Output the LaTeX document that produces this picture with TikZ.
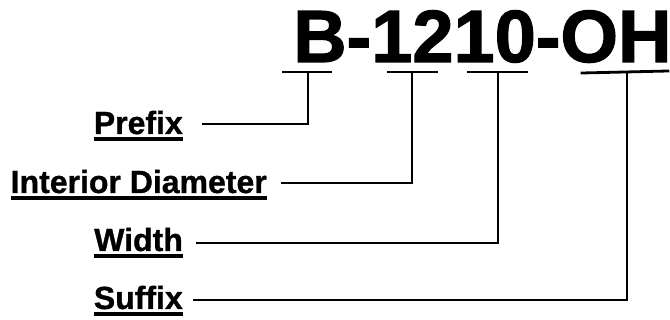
\documentclass[tikz,border=0pt]{standalone}
\usepackage{fontspec}
\setmainfont{Liberation Sans}
\newfontfamily\heavy{Liberation Sans Bold}[FakeBold=1.6]
\newfontfamily\heavylab{Liberation Sans Bold}[FakeBold=1]
\begin{document}
\begin{tikzpicture}[x=1pt,y=-1pt,
  lab/.style={inner sep=0pt, anchor=base east, font=\fontsize{32pt}{32pt}\heavylab},
  conn/.style={line width=2.8pt, line cap=rect},
  ul/.style={line width=3.2pt}]
\useasboundingbox (0,0) rectangle (670,320);
\node[inner sep=0pt, anchor=base west, font=\fontsize{74pt}{74pt}\heavy] (title) at (293,62) {B-1210-OH};
% bars under the code
\coordinate (b1l) at (283,72); \coordinate (b1r) at (331,72); \coordinate (b1) at (308,72);
\coordinate (b2l) at (388,72); \coordinate (b2r) at (437,72); \coordinate (b2) at (412,72);
\coordinate (b3l) at (468,72); \coordinate (b3r) at (527,72); \coordinate (b3) at (498,72);
\coordinate (b4l) at (582,73); \coordinate (b4r) at (668,71); \coordinate (b4) at (627,72);
\draw[conn] (b1l) -- (b1r);
\draw[conn] (b2l) -- (b2r);
\draw[conn] (b3l) -- (b3r);
\draw[conn] (b4l) -- (b4r);
% labels
\node[lab] (pre) at (183,134) {Prefix};
\node[lab] (dia) at (267,193) {Interior Diameter};
\node[lab] (wid) at (183,251) {Width};
\node[lab] (suf) at (183,309) {Suffix};
\foreach \n in {pre,dia,wid,suf}{
  \draw[ul] ([yshift=-5pt]\n.base west) -- ([yshift=-5pt]\n.base east);
}
% line starts
\coordinate (p1) at (203,124);
\coordinate (p2) at (282,183);
\coordinate (p3) at (197,243);
\coordinate (p4) at (194,300);
\draw[conn] (b1) |- (p1);
\draw[conn] (b2) |- (p2);
\draw[conn] (b3) |- (p3);
\draw[conn] (b4) |- (p4);
\end{tikzpicture}
\end{document}
